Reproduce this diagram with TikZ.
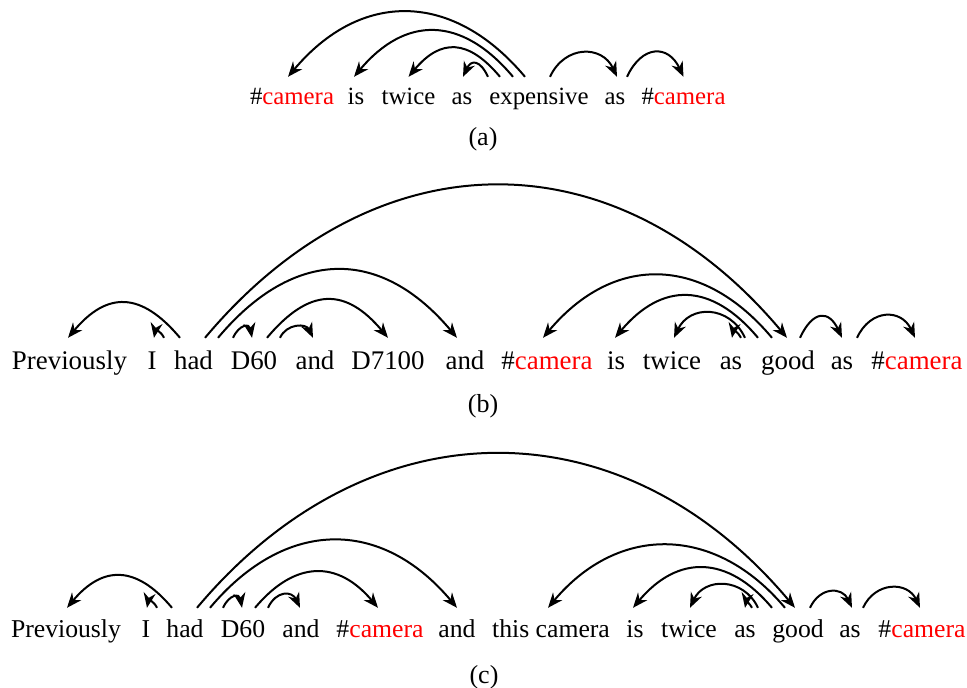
\documentclass[tikz,border=0pt]{standalone}
\usepackage{fontspec}
\setmainfont{Liberation Serif}
\usepackage{xcolor}
\usetikzlibrary{arrows.meta}

\begin{document}
\begin{tikzpicture}[x=1pt,y=1pt,
    word/.style={inner sep=0pt,anchor=base},
    rowa/.style={word,font=\fontsize{24.8}{30}\selectfont,text height=27pt},
    rowb/.style={word,font=\fontsize{26.9}{32}\selectfont,text height=31pt},
    rowc/.style={word,font=\fontsize{25.7}{31}\selectfont,text height=29pt},
    sublabel/.style={word,font=\fontsize{26}{31}\selectfont},
    dep/.style={line width=2pt,-{Stealth[length=15pt,width=12pt]}},
    arcr/.style={out=50,in=130},
    arcl/.style={out=130,in=50},
    steepr/.style={out=65,in=115},
    steepl/.style={out=115,in=65},
    tinyr/.style={out=65,in=100,looseness=2},
    tinyl/.style={out=115,in=80,looseness=2}]
    \useasboundingbox (0,0) rectangle (967,-688);

    % (a)
    \node[rowa] (acam1) at (292,-104) {\#\textcolor{red}{camera}};
    \node[rowa] (ais) at (356,-104) {is};
    \node[rowa] (atwice) at (408.5,-104) {twice};
    \node[rowa] (aas1) at (462,-104) {as};
    \node[rowa] (aexp) at (539,-104) {expensive};
    \node[rowa] (aas2) at (615,-104) {as};
    \node[rowa] (acam2) at (683.5,-104) {\#\textcolor{red}{camera}};
    \node[sublabel] (capa) at (483,-145) {(a)};

    \draw[dep] ([xshift=-14pt]aexp.north) to[arcl,looseness=1.22] ([xshift=-4pt]acam1.north);
    \draw[dep] ([xshift=-26pt]aexp.north) to[arcl,looseness=1.29] ([xshift=-2pt]ais.north);
    \draw[dep] ([xshift=-39pt]aexp.north) to[arcl,looseness=1.4] (atwice.north);
    \draw[dep] ([xshift=-51pt]aexp.north) to[steepl,looseness=1.95] ([xshift=1pt]aas1.north);
    \draw[dep] ([xshift=11pt]aexp.north) to[steepr,looseness=1.35] ([xshift=2pt]aas2.north);
    \draw[dep] ([xshift=12pt]aas2.north) to[steepr,looseness=1.62] (acam2.north);

    % (b)
    \node[rowb] (bprev) at (69.5,-369) {Previously};
    \node[rowb] (bi) at (152,-369) {I};
    \node[rowb] (bhad) at (193.5,-369) {had};
    \node[rowb] (bdsix) at (254,-369) {D60};
    \node[rowb] (band1) at (315,-369) {and};
    \node[rowb] (bdseven) at (388,-369) {D7100};
    \node[rowb] (band2) at (465,-369) {and};
    \node[rowb] (bcam1) at (547,-369) {\#\textcolor{red}{camera}};
    \node[rowb] (bis) at (616,-369) {is};
    \node[rowb] (btwice) at (672,-369) {twice};
    \node[rowb] (bas1) at (731,-369) {as};
    \node[rowb] (bgood) at (788,-369) {good};
    \node[rowb] (bas2) at (842,-369) {as};
    \node[rowb] (bcam2) at (917,-369) {\#\textcolor{red}{camera}};
    \node[sublabel] (capb) at (483,-412) {(b)};

    \draw[dep] ([xshift=-13.5pt]bhad.north) to[arcl,looseness=1.39] ([xshift=-1.5pt]bprev.north);
    \draw[dep] ([xshift=-29.5pt]bhad.north) to[tinyl] ([xshift=2pt]bi.north);
    \draw[dep] ([xshift=11.5pt]bhad.north) to[arcr,looseness=1.17] ([xshift=-1pt]bgood.north);
    \draw[dep] ([xshift=24.5pt]bhad.north) to[arcr,looseness=1.27] ([xshift=-8pt]band2.north);
    \draw[dep] ([xshift=39.5pt]bhad.north) to[tinyr] ([xshift=-2pt]bdsix.north);
    \draw[dep] ([xshift=13pt]bdsix.north) to[arcr,looseness=1.4] (bdseven.north);
    \draw[dep] ([xshift=26pt]bdsix.north) to[steepr,looseness=1.25] ([xshift=-2pt]band1.north);
    \draw[dep] ([xshift=-16pt]bgood.north) to[arcl,looseness=1.22] ([xshift=-4pt]bcam1.north);
    \draw[dep] ([xshift=-30pt]bgood.north) to[arcl,looseness=1.31] ([xshift=-1pt]bis.north);
    \draw[dep] ([xshift=-43pt]bgood.north) to[steepl,looseness=1.32] ([xshift=2pt]btwice.north);
    \draw[dep] ([xshift=-47pt]bgood.north) to[tinyl] ([xshift=1pt]bas1.north);
    \draw[dep] ([xshift=12pt]bgood.north) to[steepr,looseness=1.88] (bas2.north);
    \draw[dep] ([xshift=15pt]bas2.north) to[steepr,looseness=1.43] ([xshift=-2pt]bcam2.north);

    % (c)
    \node[rowc] (cprev) at (66,-637) {Previously};
    \node[rowc] (ci) at (146,-637) {I};
    \node[rowc] (chad) at (185,-637) {had};
    \node[rowc] (cdsix) at (243,-637) {D60};
    \node[rowc] (cand1) at (301,-637) {and};
    \node[rowc] (ccam1) at (380,-637) {\#\textcolor{red}{camera}};
    \node[rowc] (cand2) at (457,-637) {and};
    \node[rowc] (cthis) at (551,-637) {this camera};
    \node[rowc] (cis) at (635,-637) {is};
    \node[rowc] (ctwice) at (689,-637) {twice};
    \node[rowc] (cas1) at (745,-637) {as};
    \node[rowc] (cgood) at (798,-637) {good};
    \node[rowc] (cas2) at (850,-637) {as};
    \node[rowc] (ccam2) at (922,-637) {\#\textcolor{red}{camera}};
    \node[sublabel] (capc) at (484,-683) {(c)};

    \draw[dep] ([xshift=-13pt]chad.north) to[arcl,looseness=1.36] ([xshift=1pt]cprev.north);
    \draw[dep] ([xshift=-28pt]chad.north) to[tinyl] ([xshift=1pt]ci.north);
    \draw[dep] ([xshift=12pt]chad.north) to[arcr,looseness=1.15] ([xshift=-3pt]cgood.north);
    \draw[dep] ([xshift=25pt]chad.north) to[arcr,looseness=1.22] (cand2.north);
    \draw[dep] ([xshift=38pt]chad.north) to[tinyr] ([xshift=-1pt]cdsix.north);
    \draw[dep] ([xshift=12pt]cdsix.north) to[arcr,looseness=1.3] ([xshift=-2pt]ccam1.north);
    \draw[dep] ([xshift=25pt]cdsix.north) to[steepr,looseness=1.53] ([xshift=-1pt]cand1.north);
    \draw[dep] ([xshift=-13pt]cgood.north) to[arcl,looseness=1.18] ([xshift=-3pt]cthis.north);
    \draw[dep] ([xshift=-26pt]cgood.north) to[arcl,looseness=1.28] ([xshift=-2pt]cis.north);
    \draw[dep] ([xshift=-40pt]cgood.north) to[steepl,looseness=1.27] ([xshift=1pt]ctwice.north);
    \draw[dep] ([xshift=-46pt]cgood.north) to[tinyl] (cas1.north);
    \draw[dep] ([xshift=12pt]cgood.north) to[steepr,looseness=1.43] ([xshift=2pt]cas2.north);
    \draw[dep] ([xshift=13pt]cas2.north) to[steepr,looseness=1.32] ([xshift=-2pt]ccam2.north);
\end{tikzpicture}
\end{document}
